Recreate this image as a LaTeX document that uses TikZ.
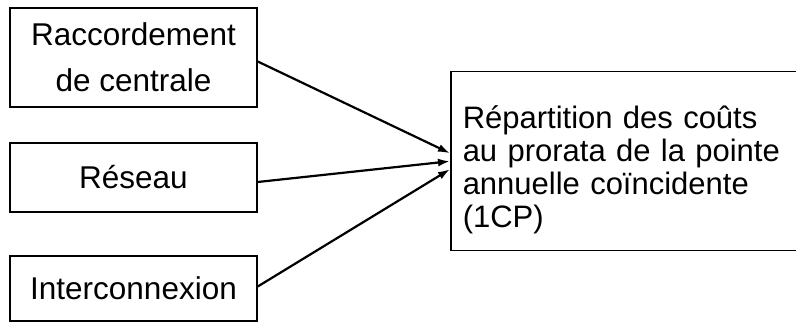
\documentclass[tikz,border=0pt]{standalone}
\usepackage{fontspec}
\setmainfont{Liberation Sans}
\usetikzlibrary{arrows.meta}
\begin{document}
\begin{tikzpicture}[x=1pt,y=-1pt,
  box/.style={draw=black, line width=1.5pt, inner sep=0pt, align=center},
  conn/.style={line width=2.2pt, -{Latex[length=12pt,width=8pt]}}]
\useasboundingbox (0,0) rectangle (796,323);
\fill[white] (0,0) rectangle (796,323);
\node[box, minimum width=247pt, minimum height=99pt, font=\fontsize{31.5}{46}\selectfont] (b1) at (133.5,57.5) {Raccordement\\de centrale};
\node[box, minimum width=247pt, minimum height=69pt, font=\fontsize{31.5}{38}\selectfont] (b2) at (133.5,177.5) {Réseau};
\node[box, minimum width=247pt, minimum height=65pt, font=\fontsize{31.5}{38}\selectfont] (b3) at (133.5,288.5) {Interconnexion};
\node[box, anchor=north west, align=left, text width=380pt, inner xsep=12pt, minimum height=179pt, font=\fontsize{31}{33}\selectfont] (r) at (450,71) {\rule{0pt}{39pt}Répartition des coûts\\au prorata de la pointe\\annuelle coïncidente\\(1CP)};
\draw[conn] ([yshift=-4pt]b1.east) -- ([yshift=8pt]r.west);
\draw[conn] ([yshift=-4.5pt]b2.east) -- ([yshift=0pt]r.west);
\draw[conn] ([yshift=2pt]b3.east) -- ([yshift=-8pt]r.west);
\end{tikzpicture}
\end{document}
